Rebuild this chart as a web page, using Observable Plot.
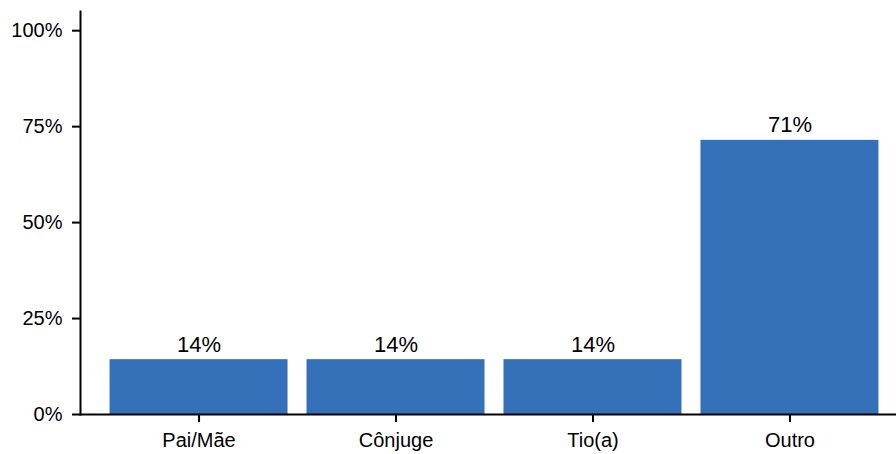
<!DOCTYPE html>
<html>
<head>
<meta charset="utf-8">
<script src="https://cdn.jsdelivr.net/npm/d3@7"></script>
<script src="https://cdn.jsdelivr.net/npm/@observablehq/plot@0.6"></script>
<style>
  html, body { margin: 0; padding: 0; background: #fff; }
  svg { overflow: visible; }
</style>
</head>
<body>
<div id="chart"></div>
<script>
const categories = ["Pai/Mãe", "Cônjuge", "Tio(a)", "Outro"];
const shares = [0.1429, 0.1429, 0.1429, 0.7143];
const yTicks = [0, 0.25, 0.5, 0.75, 1.0];

const data = categories.map((c, i) => ({category: c, share: shares[i]}));
const pct = d3.format(".0%");

const chart = Plot.plot({
  width: 896,
  height: 454,
  marginLeft: 80,
  marginRight: 0,
  marginTop: 11,
  marginBottom: 40,
  style: {fontFamily: "'Liberation Sans', Arial, sans-serif", fontSize: "20px", color: "#000", background: "#fff"},
  x: {domain: categories, range: [80, 908], round: false, paddingInner: 0.0964, paddingOuter: 0.15, label: null},
  y: {domain: [0, 1.05], label: null},
  marks: [
    Plot.barY(data, {x: "category", y: "share", fill: "#3571b8"}),
    Plot.text(data, {x: "category", y: "share", text: d => pct(d.share), lineAnchor: "bottom", dy: -8, fill: "#000", fontSize: 22}),
    Plot.axisY({ticks: yTicks, tickFormat: pct, tickSize: 8, tickPadding: 10, strokeWidth: 2, label: null, fontSize: 20}),
    Plot.axisX({tickSize: 8, tickPadding: 10, strokeWidth: 2, label: null, fontSize: 20}),
    Plot.frame({anchor: "left", strokeWidth: 2}),
    Plot.frame({anchor: "bottom", strokeWidth: 2})
  ]
});
document.getElementById("chart").appendChild(chart);
</script>
</body>
</html>
